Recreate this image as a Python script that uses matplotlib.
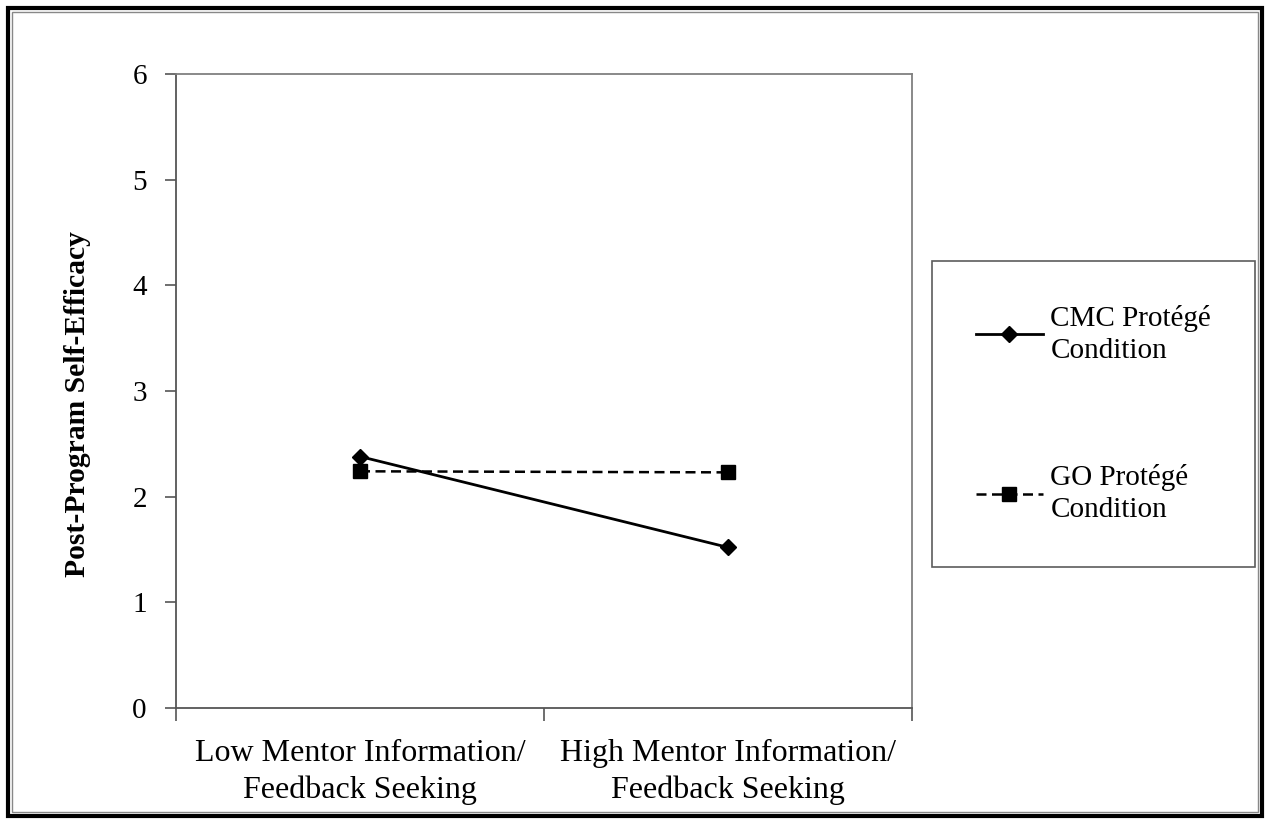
import matplotlib
matplotlib.use('Agg')
import matplotlib.pyplot as plt
from matplotlib.patches import Rectangle

categories = ['Low Mentor Information/\nFeedback Seeking',
              'High Mentor Information/\nFeedback Seeking']
cmc_values = [2.38, 1.52]
go_values = [2.24, 2.23]
series_labels = ['CMC Protégé\nCondition', 'GO Protégé\nCondition']
y_ticks = [0, 1, 2, 3, 4, 5, 6]

plt.rcParams['font.family'] = ['Liberation Serif', 'DejaVu Serif']

fig = plt.figure(figsize=(12.7, 8.24), dpi=100)
ax = fig.add_axes([176 / 1270, 1 - 708 / 824, (912 - 176) / 1270, (708 - 74) / 824])

xpos = [0.5, 1.5]
ax.plot(xpos, cmc_values, color='black', lw=2, marker='D', ms=8,
        label=series_labels[0])
ax.plot(xpos, go_values, color='black', lw=1.8, ls=(0, (4, 2.2)), marker='s', ms=10,
        label=series_labels[1])

ax.set_xlim(0, 2)
ax.set_ylim(0, 6)
ax.set_yticks(y_ticks)
ax.set_xticks([0, 1, 2])
ax.set_xticklabels([])
ax.set_xticks(xpos, minor=True)
ax.set_xticklabels(categories, minor=True, fontsize=23, linespacing=1.35)
ax.tick_params(axis='x', which='minor', length=0, pad=22)
ax.tick_params(axis='x', which='major', length=9, color='#555555', width=1.2)
ax.tick_params(axis='y', length=8, color='#555555', width=1.2, labelsize=21, pad=13)
for s in ax.spines.values():
    s.set_color('#808080')
    s.set_linewidth(1.3)
ax.spines['left'].set_color('#555555')
ax.spines['bottom'].set_color('#555555')

ax.set_ylabel('Post-Program Self-Efficacy', fontsize=21.3, fontweight='bold')
ax.yaxis.set_label_coords(-0.116, 0.479)

leg = fig.legend(loc='center', bbox_to_anchor=((935 + 1252) / 2 / 1270, 1 - (255 + 573) / 2 / 824),
                 fontsize=21, frameon=True, fancybox=False, edgecolor='#333333',
                 borderpad=1.5, labelspacing=3.45, handlelength=2.3, handletextpad=0.25,
                 borderaxespad=0)
leg.get_frame().set_linewidth(1.2)
for t in leg.get_texts():
    t.set_linespacing(1.3)

# outer page frame
fig.patches.append(Rectangle((8 / 1270, 8 / 824), 1 - 16 / 1270, 1 - 16 / 824,
                             transform=fig.transFigure, fill=False, lw=3, ec='black'))
fig.patches.append(Rectangle((12 / 1270, 12 / 824), 1 - 24 / 1270, 1 - 24 / 824,
                             transform=fig.transFigure, fill=False, lw=1, ec='#888888'))

fig.savefig('out.png', dpi=100)
